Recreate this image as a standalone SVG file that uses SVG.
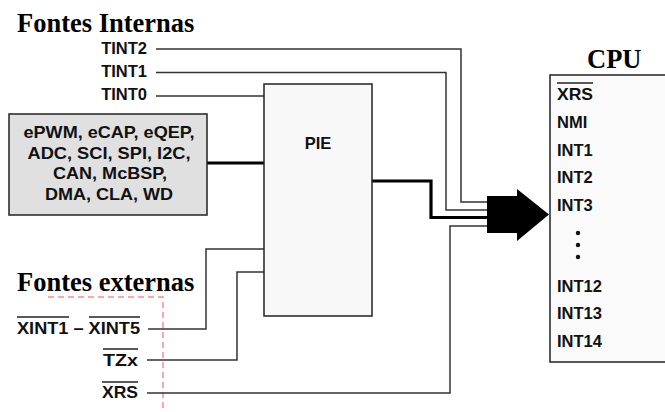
<svg xmlns="http://www.w3.org/2000/svg" width="665" height="412" viewBox="0 0 665 412">
<style>
.t{font-family:"Liberation Serif","Times New Roman",serif;font-weight:bold;font-size:26.5px;fill:#000}
.l{font-family:"Liberation Sans",Arial,sans-serif;font-weight:bold;font-size:16.5px;fill:#111}
.w{stroke:#333;stroke-width:1.5;fill:none}
.k{stroke:#000;stroke-width:3.2;fill:none}
.o{stroke:#222;stroke-width:1.3}
.box{stroke:#222;stroke-width:1.5}
</style>
<rect width="665" height="412" fill="#fff"/>
<text class="t" x="17" y="32">Fontes Internas</text>
<text class="t" x="17" y="291">Fontes externas</text>
<text class="t" x="587" y="68">CPU</text>
<path d="M48,297 H163 V412" stroke="#ff8a8a" stroke-width="1.5" stroke-dasharray="6,4" fill="none"/>
<g id="connectors">
<path class="w" d="M156,49 H461 V202 H488"/>
<path class="w" d="M156,72.5 H446 V210 H488"/>
<path class="w" d="M156,96 H264"/>
<path class="k" d="M207,163 H264"/>
<path class="k" d="M372,181 H431 V217.5 H488"/>
<path class="w" d="M147,393 H450 V226 H488"/>
<path class="w" d="M148,329 H206 V249 H264"/>
<path class="w" d="M147,360 H237 V272 H264"/>
<polygon points="487,196 517,196 517,189 549,214.5 517,241 517,233 487,233" fill="#000"/>
</g>
<g id="tint2"><text class="l" x="147" y="54" text-anchor="end">TINT2</text></g>
<g id="tint1"><text class="l" x="147" y="77" text-anchor="end">TINT1</text></g>
<g id="tint0"><text class="l" x="147" y="100" text-anchor="end">TINT0</text></g>
<g id="periph">
<rect class="box" x="9" y="114" width="198" height="101" fill="#e0e0e0"/>
<text class="l" x="109" y="138" text-anchor="middle" textLength="171" lengthAdjust="spacingAndGlyphs">ePWM, eCAP, eQEP,</text>
<text class="l" x="109" y="158.5" text-anchor="middle" textLength="163" lengthAdjust="spacingAndGlyphs">ADC, SCI, SPI, I2C,</text>
<text class="l" x="110" y="179" text-anchor="middle" textLength="114" lengthAdjust="spacingAndGlyphs">CAN, McBSP,</text>
<text class="l" x="109" y="199.5" text-anchor="middle" textLength="128" lengthAdjust="spacingAndGlyphs">DMA, CLA, WD</text>
</g>
<g id="pie">
<rect class="box" x="264" y="84" width="108" height="232" fill="#f8f8f8"/>
<text class="l" x="318" y="149" text-anchor="middle">PIE</text>
</g>
<g id="xint">
<text class="l" x="17" y="334" textLength="123" lengthAdjust="spacingAndGlyphs">XINT1 – XINT5</text>
<line class="o" x1="17" y1="317" x2="69" y2="317"/>
<line class="o" x1="89" y1="317" x2="140" y2="317"/>
</g>
<g id="tzx">
<text class="l" x="138" y="366" text-anchor="end" textLength="35" lengthAdjust="spacingAndGlyphs">TZx</text>
<line class="o" x1="103" y1="349" x2="138" y2="349"/>
</g>
<g id="xrs">
<text class="l" x="138" y="398" text-anchor="end" textLength="36" lengthAdjust="spacingAndGlyphs">XRS</text>
<line class="o" x1="102" y1="382" x2="138" y2="382"/>
</g>
<g id="cpu">
<rect class="box" x="550" y="75" width="130" height="287" fill="#fafafa"/>
<text class="l" x="557" y="100" textLength="36" lengthAdjust="spacingAndGlyphs">XRS</text>
<line class="o" x1="557" y1="83" x2="593" y2="83"/>
<text class="l" x="557" y="128">NMI</text>
<text class="l" x="557" y="155.5">INT1</text>
<text class="l" x="557" y="183">INT2</text>
<text class="l" x="557" y="210.5">INT3</text>
<circle cx="578" cy="233" r="2.2" fill="#111"/>
<circle cx="578" cy="245" r="2.2" fill="#111"/>
<circle cx="578" cy="257" r="2.2" fill="#111"/>
<text class="l" x="557" y="292">INT12</text>
<text class="l" x="557" y="319">INT13</text>
<text class="l" x="557" y="347">INT14</text>
</g>
</svg>
